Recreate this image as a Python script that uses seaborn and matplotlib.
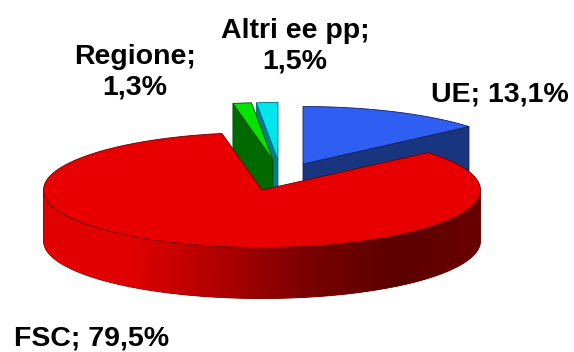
import numpy as np
import matplotlib
matplotlib.use("Agg")
import matplotlib.pyplot as plt
import seaborn as sns
from matplotlib.colors import LinearSegmentedColormap
from matplotlib.patches import Polygon

labels = ["UE", "FSC", "Regione", "Altri ee pp"]
values = [13.1, 79.5, 1.3, 1.5]
value_labels = ["13,1%", "79,5%", "1,3%", "1,5%"]
top_colors = ["#2f5ff2", "#e80000", "#00e400", "#00e6ee"]
wall_colors = ["#1a3580", "#a00000", "#006a00", "#00808c"]
edge_colors = ["#10245c", "#6a0000", "#004c00", "#006a76"]
centers = [(303, 164), (262, 190), (273, 160), (278, 160)]
label_xy = [(500, 95), (92, 338), (135, 72), (295, 46)]

RX, RY, DEPTH = 218.5, 57.5, 51
sns.set_theme(style="white")
plt.rcParams["font.family"] = ["Liberation Sans", "DejaVu Sans"]

fig = plt.figure(figsize=(5.74, 3.52), dpi=100)
ax = fig.add_axes([0, 0, 1, 1])

fractions = np.array(values) / sum(values)
ends = 90 - 360 * np.cumsum(fractions)
starts = np.r_[90, ends[:-1]]


def rim(cx, cy, a0, a1, n=200):
    t = np.radians(np.linspace(a0, a1, n))
    return np.c_[cx + RX * np.cos(t), cy - RY * np.sin(t)]


grad = LinearSegmentedColormap.from_list(
    "wall", ["#e00000", "#e00000", "#b00000", "#7a0000", "#5c0000", "#6a0000"]
)


def draw(i, zorder):
    cx, cy = centers[i]
    a0, a1 = starts[i], ends[i]
    arc = rim(cx, cy, a0, a1)
    apex = np.array([[cx, cy]])
    down = np.array([0, DEPTH])
    ec = edge_colors[i]
    # cut walls, only those that face the viewer
    visible = []
    if np.cos(np.radians(a0)) < -1e-6:
        visible.append(arc[0])
    if np.cos(np.radians(a1)) > 1e-6:
        visible.append(arc[-1])
    for corner in visible:
        wall = np.array([corner, apex[0], apex[0] + down, corner + down])
        ax.add_patch(Polygon(wall, fc=wall_colors[i], ec=ec, lw=0.6, zorder=zorder))
    # outer wall: the part of the rim that faces the viewer
    b0, b1 = max(a1, -180), min(a0, 0)
    if b1 > b0:
        r = rim(cx, cy, b0, b1)
        poly = np.r_[r, (r + down)[::-1]]
        patch = Polygon(poly, fc=wall_colors[i], ec=ec, lw=0.6, zorder=zorder)
        ax.add_patch(patch)
        if i == 1:
            g = np.linspace(0, 1, 256)[None, :]
            im = ax.imshow(
                g, cmap=grad, extent=(r[:, 0].min(), r[:, 0].max(), 352, 0),
                aspect="auto", zorder=zorder,
            )
            im.set_clip_path(patch)
    # top face
    ax.add_patch(Polygon(np.r_[apex, arc], fc=top_colors[i], ec=ec, lw=0.6, zorder=zorder + 0.5))


for z, i in enumerate([0, 3, 2, 1]):
    draw(i, z + 1)

for name, val, (x, y) in zip(labels, value_labels, label_xy):
    txt = f"{name}; {val}" if name in ("UE", "FSC") else f"{name};\n{val}"
    ax.text(x, y, txt, ha="center", va="center", fontsize=20.5, fontweight="bold",
            color="black", linespacing=1.22, zorder=10)

ax.set_xlim(0, 574)
ax.set_ylim(352, 0)
ax.axis("off")
fig.savefig("out.png", dpi=100, facecolor="white")
